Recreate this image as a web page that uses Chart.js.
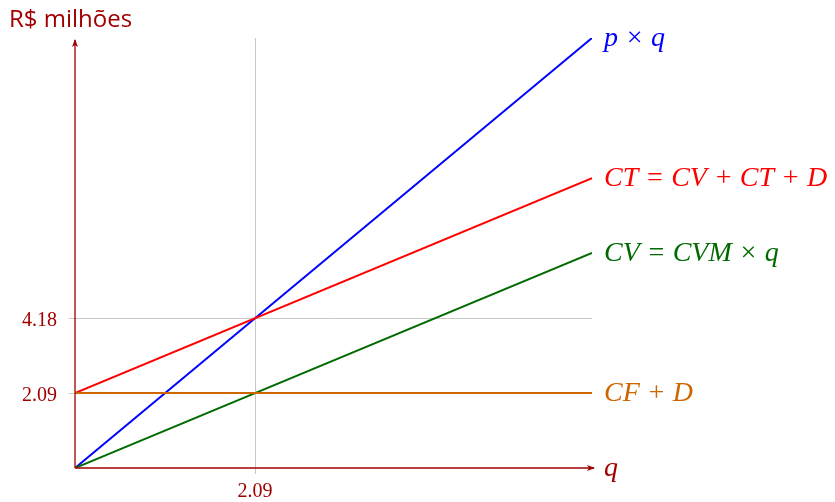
<!DOCTYPE html>
<html>
<head>
<meta charset="utf-8">
<script src="https://cdn.jsdelivr.net/npm/chart.js@4"></script>
<style>
html,body{margin:0;padding:0;background:#fff;}
#wrap{width:835px;height:502px;position:relative;}
</style>
</head>
<body>
<div id="wrap"><canvas id="c" width="835" height="502"></canvas></div>
<script>
// ---- data ----
const qValues = [0, 6];
const revenue = [0, 12];          // p × q
const totalCost = [2.09, 8.09];   // CT = CV + CT + D
const variableCost = [0, 6];      // CV = CVM × q
const fixedCost = [2.09, 2.09];   // CF + D
const yTickValues = [2.09, 4.18];
const xTickValues = [2.09];
const yMax = 12;
const xMax = 6;
const seriesLabels = ['p × q', 'CT = CV + CT + D', 'CV = CVM × q', 'CF + D'];
const yAxisTitle = 'R$ milhões';
const xAxisTitle = 'q';

const AXIS = '#a00000';
const colors = ['#0000ff', '#ff0000', '#006a00', '#cc6600'];
const seriesData = [revenue, totalCost, variableCost, fixedCost];

function pts(ys){ return qValues.map((x,i)=>({x:x,y:ys[i]})); }

const datasets = seriesData.map((ys,i)=>({
  label: seriesLabels[i],
  data: pts(ys),
  showLine: true,
  borderColor: colors[i],
  borderWidth: 2,
  pointRadius: 0,
  fill: false,
  order: 3 - i
}));

const decor = {
  id: 'decor',
  afterDatasetsDraw(chart){
    const ctx = chart.ctx;
    const xs = chart.scales.x, ys = chart.scales.y;
    const x0 = xs.getPixelForValue(0), y0 = ys.getPixelForValue(0);
    const top = ys.getPixelForValue(yMax) + 2;
    const right = xs.getPixelForValue(xMax) + 2;
    ctx.save();
    ctx.strokeStyle = AXIS;
    ctx.lineWidth = 1.3;
    ctx.beginPath();
    ctx.moveTo(x0, y0); ctx.lineTo(x0, top);
    ctx.moveTo(x0, y0); ctx.lineTo(right, y0);
    ctx.stroke();
    // arrowheads
    ctx.fillStyle = AXIS;
    ctx.beginPath();
    ctx.moveTo(x0, top - 1); ctx.lineTo(x0 - 3, top + 7); ctx.lineTo(x0, top + 5); ctx.lineTo(x0 + 3, top + 7); ctx.closePath();
    ctx.fill();
    ctx.beginPath();
    ctx.moveTo(right + 1, y0); ctx.lineTo(right - 7, y0 - 3); ctx.lineTo(right - 5, y0); ctx.lineTo(right - 7, y0 + 3); ctx.closePath();
    ctx.fill();
    // series labels
    ctx.textAlign = 'left';
    ctx.textBaseline = 'middle';
    ctx.font = 'italic 28px "Liberation Serif"';
    seriesData.forEach((d,i)=>{
      const lx = xs.getPixelForValue(qValues[qValues.length-1]) + 12;
      const ly = ys.getPixelForValue(d[d.length-1]) + 1;
      ctx.fillStyle = colors[i];
      ctx.fillText(seriesLabels[i], lx, ly);
    });
    // axis titles
    ctx.fillStyle = AXIS;
    ctx.fillText(xAxisTitle, right + 10, y0 + 1);
    ctx.font = '24px "Open Sans"';
    ctx.fillText(yAxisTitle, 9, 20);
    ctx.restore();
  }
};

new Chart(document.getElementById('c'), {
  type: 'scatter',
  data: { datasets },
  options: {
    responsive: false,
    animation: false,
    layout: { padding: { left: 0, right: 243, top: 38, bottom: 0 } },
    plugins: { legend: { display: false }, tooltip: { enabled: false } },
    scales: {
      x: {
        type: 'linear', min: 0, max: xMax,
        afterBuildTicks(s){ s.ticks = xTickValues.map(v=>({value:v})); },
        afterFit(s){ s.height = 34; },
        border: { display: false },
        grid: { color: '#c8c8c8', lineWidth: 1, tickLength: 6 },
        ticks: { color: AXIS, font: { family: '"Liberation Serif"', size: 20 }, padding: 6,
          callback: v => v.toFixed(2) }
      },
      y: {
        type: 'linear', min: 0, max: yMax,
        afterBuildTicks(s){ s.ticks = yTickValues.map(v=>({value:v})); },
        afterFit(s){ s.width = 75; },
        border: { display: false },
        grid: { color: '#c8c8c8', lineWidth: 1, tickLength: 6 },
        ticks: { color: AXIS, font: { family: '"Liberation Serif"', size: 20 }, padding: 12,
          labelOffset: 3,
          callback: v => v.toFixed(2) }
      }
    }
  },
  plugins: [decor]
});
</script>
</body>
</html>
